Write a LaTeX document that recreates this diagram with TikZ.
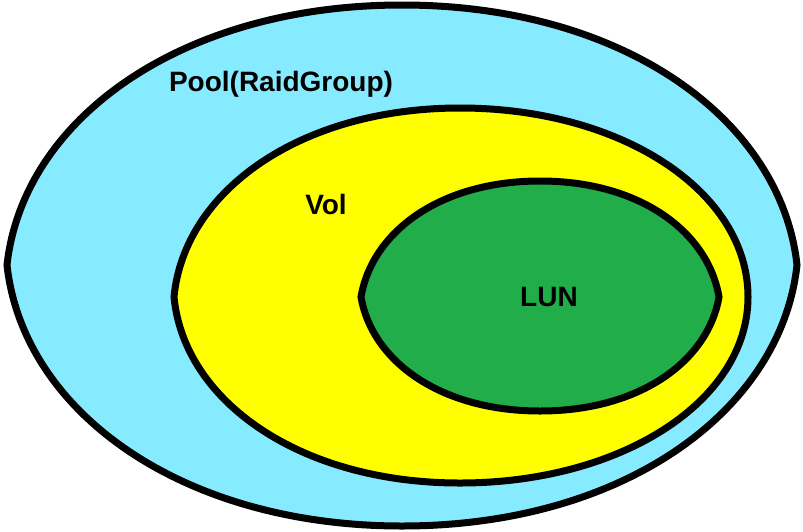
\documentclass[tikz,border=0pt]{standalone}
\usepackage{fontspec}
\setmainfont{Liberation Sans}
\usetikzlibrary{calc}
\definecolor{poolc}{RGB}{135,235,255}
\definecolor{volc}{RGB}{255,255,0}
\definecolor{lunc}{RGB}{33,174,74}
\tikzset{
  region/.style={draw=black, line width=7pt, line join=miter, miter limit=10},
  lbl/.style={font=\bfseries\fontsize{28}{30}\selectfont, inner sep=0pt, anchor=base}
}
% #1 style, #2 left x, #3 right x, #4 mid y, #5 top x, #6 top y, #7 bottom y, #8 left tilt, #9 right tilt
\newcommand{\lensregion}[9]{%
  \pgfmathsetmacro{\rxl}{0.56*(#5-#2)}%
  \pgfmathsetmacro{\rxr}{0.56*(#3-#5)}%
  \pgfmathsetmacro{\ryt}{0.56*(#4-#6)}%
  \pgfmathsetmacro{\ryb}{0.56*(#7-#4)}%
  \path[#1] (#2,#4) .. controls (#2+#8,#4-\ryt) and (#5-\rxl,#6) .. (#5,#6)
    .. controls (#5+\rxr,#6) and (#3-#9,#4-\ryt) .. (#3,#4)
    .. controls (#3-#9,#4+\ryb) and (#5+\rxr,#7) .. (#5,#7)
    .. controls (#5-\rxl,#7) and (#2+#8,#4+\ryb) .. (#2,#4) -- cycle;
}
\begin{document}
\begin{tikzpicture}[x=1pt,y=-1pt]
\useasboundingbox (0,0) rectangle (803,531);
\lensregion{region,fill=poolc}{7}{797}{265}{402}{5}{526}{16}{16}
\lensregion{region,fill=volc}{174}{748}{297}{460}{108}{483}{10}{0}
\lensregion{region,fill=lunc}{361}{719}{297}{540}{181}{411}{11}{11}
\node[lbl] (pool) at (281,91) {Pool(RaidGroup)};
\node[lbl] (vol) at (326,214) {Vol};
\node[lbl] (lun) at (549,306) {LUN};
\end{tikzpicture}
\end{document}
